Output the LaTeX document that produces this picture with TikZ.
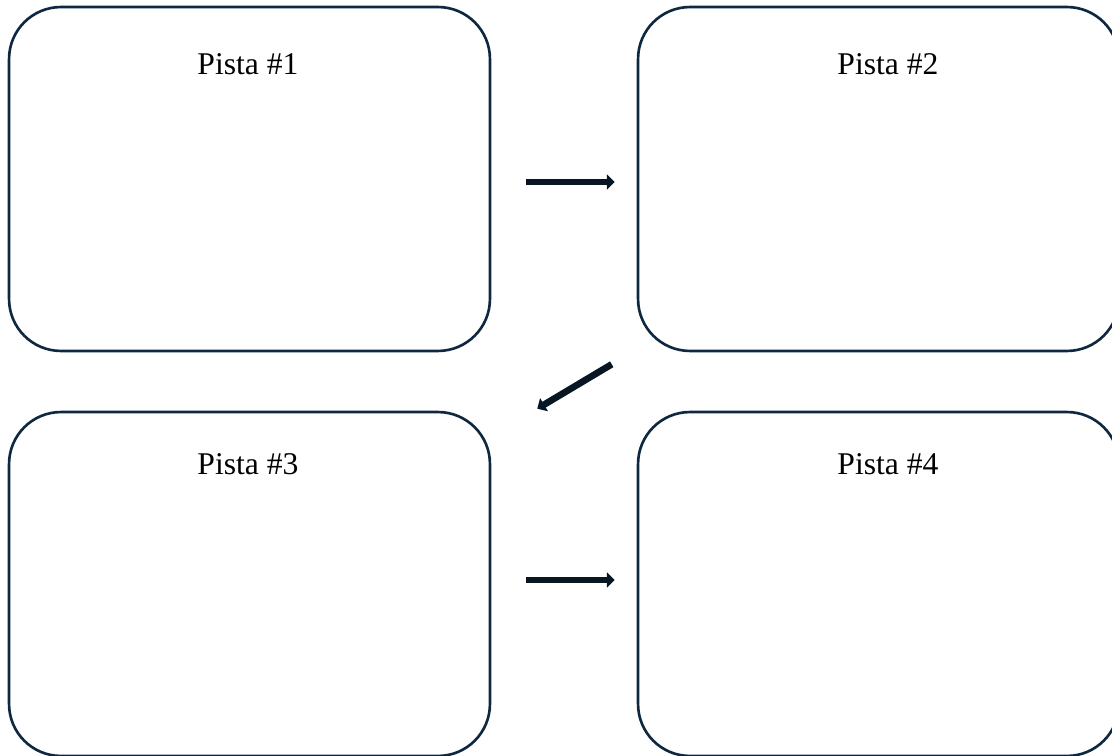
\documentclass[tikz,border=0pt]{standalone}
\usepackage{fontspec}
\setmainfont{Liberation Serif}
\usepackage{tikz, xcolor}
\usetikzlibrary{arrows.meta, calc}

\definecolor{contorno}{HTML}{0E2841}

\begin{document}
\begin{tikzpicture}[x=0.02cm, y=-0.02cm,
    pista/.style={draw=contorno, line width=1.5pt, rounded corners=1.04cm,
      minimum width=9.62cm, minimum height=6.88cm, inner sep=0pt},
    titulo/.style={anchor=base, font=\fontsize{18}{22}\selectfont},
    flecha/.style={draw=contorno!55!black, line width=3.8pt,
      -{Triangle[length=4.5pt, width=8.5pt]}}]
    \useasboundingbox (0, 0) rectangle (1112, 756);

    \foreach \n/\x/\y/\tx/\ty in {1/249.5/179/248/75, 2/878.5/179/888/75,
                                  3/249.5/584/248/475, 4/878.5/584/888/475}
    {
      \node [pista] (p\n) at (\x, \y) {};
      \node [titulo] (t\n) at (\tx, \ty) {Pista \#\n};
    }

    \draw [flecha] ($(p1.east)+(35, 3)$) to ($(p2.west)+(-22, 3)$);
    \draw [flecha] ($(p2.south west)+(-25, 12)$) to ($(p3.north east)+(46, -2)$);
    \draw [flecha] ($(p3.east)+(35, -4)$) to ($(p4.west)+(-22, -4)$);

  \end{tikzpicture}
\end{document}
